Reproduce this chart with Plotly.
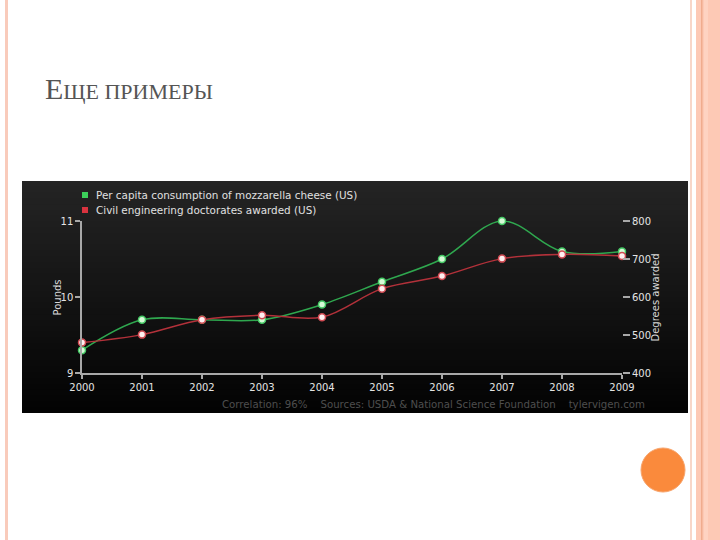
import plotly.graph_objects as go

years = [2000, 2001, 2002, 2003, 2004, 2005, 2006, 2007, 2008, 2009]
mozzarella = [9.3, 9.7, 9.7, 9.7, 9.9, 10.2, 10.5, 11.0, 10.6, 10.6]
doctorates = [480, 501, 540, 552, 547, 622, 655, 701, 712, 708]

left_ticks = [9, 10, 11]
right_ticks = [400, 500, 600, 700, 800]

legend_labels = ["Per capita consumption of mozzarella cheese (US)",
                 "Civil engineering doctorates awarded (US)"]
footer = "Correlation: 96%    Sources: USDA & National Science Foundation    tylervigen.com"
title_first = "Е"
title_rest = "ЩЕ ПРИМЕРЫ"

W, H = 720, 540
def px(x): return x / W
def py(y): return 1 - y / H

GREEN = "#2fa84f"
RED = "#b3313a"
FONT = "DejaVu Sans"

fig = go.Figure()
fig.add_trace(go.Scatter(
    x=years, y=mozzarella, mode="lines+markers", line=dict(color=GREEN, width=1.5, shape="spline", smoothing=1),
    marker=dict(size=7, color="#d8fbd8", line=dict(color="#45c965", width=1.5)),
    cliponaxis=False, showlegend=False, xaxis="x", yaxis="y"))
fig.add_trace(go.Scatter(
    x=years, y=doctorates, mode="lines+markers", line=dict(color=RED, width=1.5, shape="spline", smoothing=1),
    marker=dict(size=7, color="#fff0f0", line=dict(color="#d04a52", width=1.5)),
    cliponaxis=False, showlegend=False, xaxis="x", yaxis="y2"))

shapes = []
# dark gradient panel
x0, x1, top, bot = 22, 688, 181, 413
n = 40
for i in range(n):
    t = i / (n - 1)
    c = int(round(36 * (1 - t) + 3 * t))
    ya = top + (bot - top) * i / n
    yb = min(bot, top + (bot - top) * (i + 1) / n + 3)
    shapes.append(dict(type="rect", xref="paper", yref="paper", x0=px(x0), x1=px(x1), y0=py(yb), y1=py(ya),
                       fillcolor=f"rgb({c},{c},{c})", line=dict(width=0), layer="below"))
# slide decoration stripes
def vrect(a, b, color):
    shapes.append(dict(type="rect", xref="paper", yref="paper", x0=px(a), x1=px(b), y0=0, y1=1,
                       fillcolor=color, line=dict(width=0), layer="below"))
vrect(5, 8, "#f9cbbb")
vrect(690, 692, "#f8d6c8")
vrect(696, 720, "#fdc9b5")
vrect(701, 702.5, "#f0ac8e")
vrect(704, 708, "#fed3c2")
# orange circle
shapes.append(dict(type="circle", xref="paper", yref="paper", x0=px(641), x1=px(685), y0=py(492), y1=py(448),
                   fillcolor="#fa8a3c", line=dict(color="#f7a36a", width=1), layer="above"))
# legend squares
for cy, col in [(195, "#3ccf5a"), (210, "#d9333f")]:
    shapes.append(dict(type="rect", xref="paper", yref="paper", x0=px(82), x1=px(88), y0=py(cy + 3), y1=py(cy - 3),
                       fillcolor=col, line=dict(width=0), layer="above"))

annotations = [
    dict(text=f"{title_first}<span style='font-size:22px'>{title_rest}</span>", x=px(43), y=py(107),
         xref="paper", yref="paper", xanchor="left", yanchor="bottom", showarrow=False,
         font=dict(family="Liberation Serif", size=30, color="#555555")),
    dict(text=legend_labels[0], x=px(94), y=py(195), xref="paper", yref="paper", xanchor="left", yanchor="middle",
         showarrow=False, font=dict(family=FONT, size=10.4, color="#e0e0e0")),
    dict(text=legend_labels[1], x=px(94), y=py(210), xref="paper", yref="paper", xanchor="left", yanchor="middle",
         showarrow=False, font=dict(family=FONT, size=10.4, color="#e0e0e0")),
    dict(text="Pounds", x=px(49), y=py(297), xref="paper", yref="paper", textangle=-90, showarrow=False,
         font=dict(family=FONT, size=10, color="#d8d8d8")),
    dict(text="Degrees awarded", x=px(662), y=py(298), xref="paper", yref="paper", textangle=-90, showarrow=False,
         font=dict(family=FONT, size=10, color="#d8d8d8")),
    dict(text=footer.replace("  ", "&nbsp;&nbsp;"), x=px(647), y=py(404), xref="paper", yref="paper",
         xanchor="right", yanchor="middle", showarrow=False,
         font=dict(family=FONT, size=10.2, color="#4e4e4e")),
]

axis_font = dict(family=FONT, size=10, color="#e4e4e4")
fig.update_layout(
    template="none",
    width=W, height=H, margin=dict(l=0, r=0, t=0, b=0, pad=0, autoexpand=False),
    paper_bgcolor="white", plot_bgcolor="rgba(0,0,0,0)",
    shapes=shapes, annotations=annotations,
    xaxis=dict(domain=[px(82), px(622)], range=[2000, 2009], tickvals=years, ticktext=[str(y) for y in years],
               showgrid=False, zeroline=False, showline=True, linecolor="#a8a8a8", linewidth=1.5,
               ticks="outside", ticklen=4, tickcolor="#a8a8a8", tickwidth=1.5, tickfont=axis_font,
               automargin=False),
    yaxis=dict(domain=[py(373), py(221)], range=[9, 11], tickvals=left_ticks, showgrid=False, zeroline=False,
               showline=True, linecolor="#a8a8a8", linewidth=1.5, ticks="outside", ticklen=5,
               tickcolor="#a8a8a8", tickwidth=1.5, tickfont=axis_font, anchor="x", automargin=False),
    yaxis2=dict(domain=[py(373), py(221)], range=[400, 800], tickvals=right_ticks, overlaying="y", side="right",
                anchor="x", showgrid=False, zeroline=False, showline=False, ticks="outside", ticklen=7,
                tickcolor="#a8a8a8", tickwidth=1.5, tickfont=axis_font, automargin=False),
)

fig.write_html("out.html", config={"displayModeBar": False},
               post_script="document.body.style.margin='0';document.body.style.padding='0';document.body.style.overflow='hidden';")
